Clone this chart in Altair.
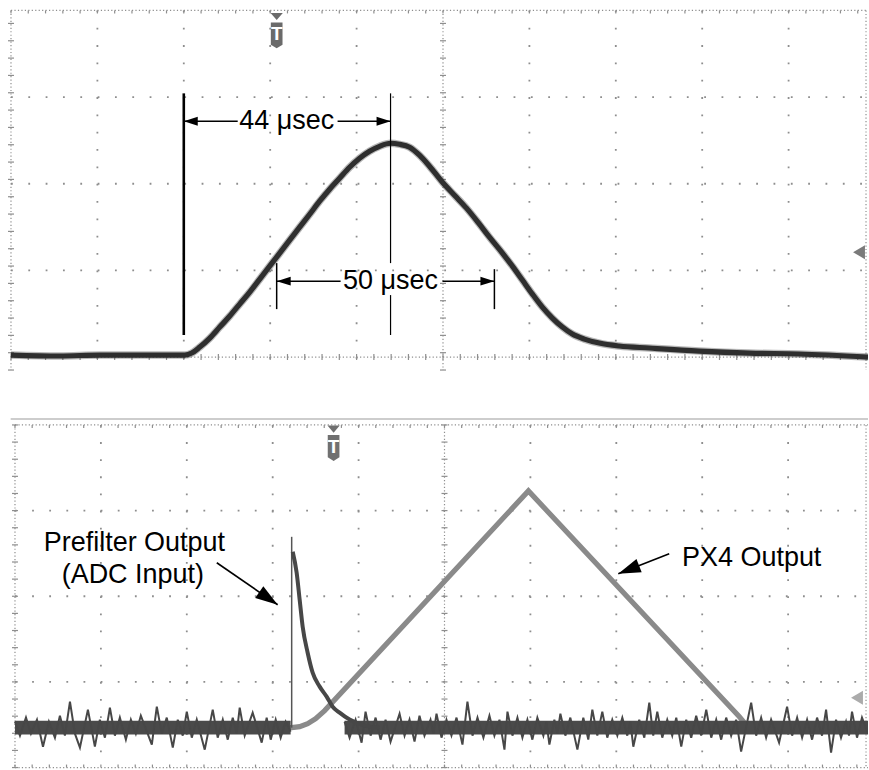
import altair as alt
import pandas as pd

# ---------------- data (units: oscilloscope screen divisions) ----------------
# Top panel: shaped output pulse
top_x = [0.0, 0.566, 1.029, 1.607, 2.012, 2.092, 2.185, 2.301, 2.416, 2.532, 2.647, 2.763,
         2.879, 2.994, 3.110, 3.225, 3.341, 3.457, 3.572, 3.688, 3.803, 3.919, 4.035, 4.150,
         4.266, 4.393, 4.497, 4.613, 4.728, 4.844, 4.994, 5.133, 5.272, 5.422, 5.538, 5.688,
         5.803, 5.919, 6.035, 6.150, 6.266, 6.382, 6.497, 6.636, 6.809, 7.040, 7.387, 7.965,
         8.543, 9.121, 9.919]
top_y = [0.023, 0.012, 0.023, 0.023, 0.023, 0.046, 0.115, 0.219, 0.346, 0.473, 0.611, 0.749,
         0.899, 1.049, 1.199, 1.349, 1.499, 1.648, 1.798, 1.937, 2.063, 2.190, 2.294, 2.375,
         2.432, 2.467, 2.455, 2.421, 2.329, 2.202, 2.017, 1.867, 1.718, 1.533, 1.383, 1.199,
         1.049, 0.888, 0.726, 0.576, 0.450, 0.346, 0.265, 0.207, 0.161, 0.127, 0.104, 0.069,
         0.046, 0.035, 0.000]

# Bottom panel: PX4 output (triangular shaping)
px4_x = [0.0, 3.221, 3.314, 3.407, 3.500, 3.605, 5.977, 8.430, 8.500, 8.570, 9.930]
px4_y = [0.466, 0.466, 0.478, 0.513, 0.571, 0.665, 3.230, 0.595, 0.513, 0.466, 0.466]

# Bottom panel: prefilter output (ADC input) - step then exponential decay
pre_step_x = 3.221
pre_step_top = 2.694
pre_x = [3.233, 3.279, 3.314, 3.349, 3.407, 3.465, 3.547, 3.628, 3.698, 3.779, 3.895, 4.070, 4.244]
pre_y = [2.520, 2.274, 1.959, 1.644, 1.341, 1.108, 0.945, 0.828, 0.711, 0.641, 0.560, 0.490, 0.466]
pre_base = 0.466
pre_core = 0.08
noise_seg_x0 = [0.0, 3.837]
noise_seg_x1 = [3.209, 9.930]

# noisy baseline of the prefilter trace (peaks/troughs)
noise1_x = [0.000, 0.058, 0.128, 0.186, 0.256, 0.326, 0.395, 0.465, 0.523, 0.581, 0.640, 0.698,
            0.756, 0.849, 0.930, 0.988, 1.047, 1.105, 1.163, 1.221, 1.291, 1.349, 1.407, 1.465,
            1.593, 1.651, 1.709, 1.767, 1.837, 1.895, 1.953, 2.000, 2.058, 2.116, 2.209, 2.302,
            2.360, 2.419, 2.477, 2.535, 2.581, 2.616, 2.674, 2.767, 2.872, 2.930, 2.977, 3.035,
            3.093, 3.151, 3.209]
noise1_y = [0.536, 0.373, 0.583, 0.396, 0.559, 0.244, 0.536, 0.349, 0.606, 0.373, 0.769, 0.396,
            0.233, 0.676, 0.244, 0.559, 0.349, 0.699, 0.373, 0.583, 0.326, 0.559, 0.396, 0.606,
            0.268, 0.711, 0.396, 0.583, 0.233, 0.559, 0.373, 0.653, 0.349, 0.559, 0.209, 0.676,
            0.349, 0.559, 0.326, 0.583, 0.396, 0.699, 0.373, 0.641, 0.291, 0.583, 0.326, 0.559,
            0.349, 0.536, 0.419]
noise2_x = [3.837, 3.895, 3.965, 4.035, 4.081, 4.140, 4.198, 4.256, 4.314, 4.372, 4.477, 4.535,
            4.593, 4.651, 4.709, 4.767, 4.837, 4.872, 4.907, 4.965, 5.023, 5.081, 5.140, 5.209,
            5.267, 5.326, 5.384, 5.453, 5.523, 5.581, 5.640, 5.698, 5.733, 5.791, 5.849, 5.907,
            5.965, 6.023, 6.081, 6.151, 6.186, 6.221, 6.279, 6.314, 6.349, 6.407, 6.465, 6.547,
            6.616, 6.674, 6.721, 6.779, 6.837, 6.895, 6.953, 7.012, 7.070, 7.128, 7.163, 7.198,
            7.267, 7.326, 7.384, 7.430, 7.477, 7.535, 7.593, 7.651, 7.698, 7.756, 7.814, 7.872,
            7.930, 7.988, 8.047, 8.105, 8.163, 8.221, 8.279, 8.337, 8.395, 8.453, 8.570, 8.628,
            8.686, 8.744, 8.802, 8.895, 8.988, 9.047, 9.105, 9.163, 9.221, 9.279, 9.337, 9.395,
            9.442, 9.500, 9.558, 9.616, 9.674, 9.709, 9.744, 9.802, 9.860, 9.930]
noise2_y = [0.536, 0.349, 0.559, 0.291, 0.653, 0.373, 0.583, 0.326, 0.559, 0.303, 0.629, 0.373,
            0.559, 0.303, 0.606, 0.373, 0.559, 0.396, 0.629, 0.349, 0.559, 0.373, 0.583, 0.268,
            0.769, 0.373, 0.583, 0.349, 0.606, 0.373, 0.559, 0.209, 0.653, 0.373, 0.583, 0.349,
            0.559, 0.326, 0.583, 0.373, 0.536, 0.268, 0.559, 0.396, 0.629, 0.373, 0.583, 0.209,
            0.583, 0.326, 0.676, 0.373, 0.653, 0.349, 0.559, 0.373, 0.583, 0.373, 0.536, 0.244,
            0.559, 0.349, 0.758, 0.373, 0.653, 0.349, 0.559, 0.373, 0.583, 0.244, 0.559, 0.349,
            0.606, 0.373, 0.676, 0.349, 0.559, 0.326, 0.583, 0.373, 0.559, 0.186, 0.758, 0.373,
            0.583, 0.349, 0.559, 0.291, 0.711, 0.373, 0.583, 0.349, 0.559, 0.326, 0.583, 0.373,
            0.676, 0.174, 0.559, 0.349, 0.536, 0.373, 0.653, 0.349, 0.583, 0.396]

# Annotation labels
top_labels = ["44 \u03bcsec", "50 \u03bcsec"]
top_label_x = [3.191, 4.393]
top_label_y = [2.720, 0.876]
bot_labels = ["Prefilter Output", "(ADC Input)", "PX4 Output"]
bot_label_x = [1.390, 1.372, 8.576]
bot_label_y = [2.624, 2.251, 2.449]

# ---------------- layout ----------------
W = 869
TOP_H = 380
BOT_H = 390
TOP_XDOM = [-0.1272, 9.919]
TOP_YDOM = [-0.2651, 4.1153]
BOT_XDOM = [-0.1744, 9.930]
BOT_YDOM = [-0.0233, 4.5248]

GRID = "#8e8e8e"
FONT = "Liberation Sans"


def encoders(xdom, ydom):
    def X(f="x"):
        return alt.X(f"{f}:Q", scale=alt.Scale(domain=xdom, nice=False, zero=False), axis=None)

    def Y(f="y"):
        return alt.Y(f"{f}:Q", scale=alt.Scale(domain=ydom, nice=False, zero=False), axis=None)

    return X, Y


def graticule(X, Y, dotted_v, ticked_v, dotted_h, ticked_h, vy0, vy1, hx0, hx1,
              dash_major, dash_minor, tick_len, tick_dirs, px_per_div):
    layers = []
    dv = pd.DataFrame({"x": dotted_v, "y": [vy1] * len(dotted_v), "y2": [vy0] * len(dotted_v)})
    layers.append(alt.Chart(dv).mark_rule(color=GRID, strokeWidth=1.8, strokeDash=dash_major)
                  .encode(x=X(), y=Y(), y2="y2:Q"))
    dh = pd.DataFrame({"y": dotted_h, "x": [hx0] * len(dotted_h), "x2": [hx1] * len(dotted_h)})
    layers.append(alt.Chart(dh).mark_rule(color=GRID, strokeWidth=1.8, strokeDash=dash_major)
                  .encode(y=Y(), x=X(), x2="x2:Q"))
    tv = pd.DataFrame({"x": ticked_v, "y": [vy1] * len(ticked_v), "y2": [vy0] * len(ticked_v)})
    layers.append(alt.Chart(tv).mark_rule(color=GRID, strokeWidth=1.2, strokeDash=dash_minor)
                  .encode(x=X(), y=Y(), y2="y2:Q"))
    th = pd.DataFrame({"y": ticked_h, "x": [hx0] * len(ticked_h), "x2": [hx1] * len(ticked_h)})
    layers.append(alt.Chart(th).mark_rule(color=GRID, strokeWidth=1.2, strokeDash=dash_minor)
                  .encode(y=Y(), x=X(), x2="x2:Q"))
    # short perpendicular ticks every 1/5 division on the ticked lines
    rows = []
    for yv, (up, dn) in zip(ticked_h, tick_dirs):
        k = 0
        while k * 0.2 <= hx1:
            rows.append({"x": k * 0.2, "x2": k * 0.2,
                         "y": yv + up * tick_len / px_per_div[1],
                         "y2": yv - dn * tick_len / px_per_div[1]})
            k += 1
    for xv in ticked_v[:2]:
        k = 0
        yy = vy0
        while yy <= vy1 + 1e-9:
            rows.append({"x": xv - tick_len / px_per_div[0], "x2": xv + tick_len / px_per_div[0],
                         "y": yy, "y2": yy})
            k += 1
            yy = vy0 + k * 0.2
    tk = pd.DataFrame(rows)
    layers.append(alt.Chart(tk).mark_rule(color=GRID, strokeWidth=1.2)
                  .encode(x=X(), x2="x2:Q", y=Y(), y2="y2:Q"))
    return layers


ARROW = "M0,0L-1,-0.32L-1,0.32Z"
SHIELD = "M-0.45,-1L0.45,-1L0.45,0.72L0,1L-0.45,0.72Z"
TRI_DOWN = "M-1,-0.55L1,-0.55L0,0.6Z"
TRI_LEFT = "M-1,0L0.7,-1L0.7,1Z"


def trigger(X, Y, x, y_tri, y_shield, color):
    d1 = pd.DataFrame({"x": [x], "y": [y_tri]})
    d2 = pd.DataFrame({"x": [x], "y": [y_shield], "t": ["T"]})
    return [
        alt.Chart(d1).mark_point(shape=TRI_DOWN, filled=True, size=150, color=color, opacity=1,
                                 strokeWidth=0).encode(x=X(), y=Y()),
        alt.Chart(d2).mark_point(shape=SHIELD, filled=True, size=676, color=color, opacity=1,
                                 strokeWidth=0).encode(x=X(), y=Y()),
        alt.Chart(d2).mark_text(font=FONT, fontSize=19, fontWeight="bold", color="white",
                                baseline="middle", align="center", dy=-1)
        .encode(x=X(), y=Y(), text="t:N"),
    ]


# ================= TOP PANEL =================
tX, tY = encoders(TOP_XDOM, TOP_YDOM)
top_layers = graticule(
    tX, tY,
    dotted_v=[1, 2, 3, 4, 6, 7, 8, 9], ticked_v=[0, 5, 9.896],
    dotted_h=[1, 2, 3], ticked_h=[0, 4],
    vy0=-0.15, vy1=4.0, hx0=0.0, hx1=9.919,
    dash_major=[1.8, 15.55], dash_minor=[1.2, 2.26], tick_len=3.0,
    tick_dirs=[(1, 1), (0, 1)], px_per_div=(86.5, 86.75))

top_df = pd.DataFrame({"x": top_x, "y": top_y})
top_layers.append(alt.Chart(top_df).mark_line(color="#333333", strokeWidth=7.5, opacity=0.35,
                                              interpolate="monotone", clip=True)
                  .encode(x=tX(), y=tY()))
top_layers.append(alt.Chart(top_df).mark_line(color="#2e2e2e", strokeWidth=5.2,
                                              interpolate="monotone", clip=True)
                  .encode(x=tX(), y=tY()))

ann_top = pd.DataFrame({
    "x":  [2.0, 4.393, 4.393, 2.0, 3.780, 3.075, 4.994, 3.075, 5.595],
    "x2": [2.0, 4.393, 4.393, 2.624, 4.393, 3.815, 5.595, 3.075, 5.595],
    "y":  [3.043, 3.043, 0.715, 2.720, 2.720, 0.876, 0.876, 1.084, 1.014],
    "y2": [0.254, 1.084, 0.254, 2.720, 2.720, 0.876, 0.876, 0.553, 0.553],
    "w":  [2.6, 1.2, 1.2, 1.5, 1.5, 1.5, 1.5, 1.5, 1.5],
})
top_layers.append(alt.Chart(ann_top).mark_rule(color="black")
                  .encode(x=tX(), x2="x2:Q", y=tY(), y2="y2:Q",
                          strokeWidth=alt.StrokeWidth("w:Q", scale=None)))
heads_top = pd.DataFrame({"x": [2.0, 4.393, 3.075, 5.595], "y": [2.720, 2.720, 0.876, 0.876],
                          "a": [180, 0, 180, 0]})
top_layers.append(alt.Chart(heads_top).mark_point(shape=ARROW, filled=True, size=784, color="black",
                                                  opacity=1, strokeWidth=0)
                  .encode(x=tX(), y=tY(), angle=alt.Angle("a:Q", scale=None)))
lab_top = pd.DataFrame({"x": top_label_x, "y": top_label_y, "t": top_labels})
top_layers.append(alt.Chart(lab_top).mark_text(font=FONT, fontSize=27, color="black",
                                               align="center", baseline="middle")
                  .encode(x=tX(), y=tY(), text="t:N"))
top_layers += trigger(tX, tY, 3.075, 3.931, 3.712, "#6a6a6a")
gnd_top = pd.DataFrame({"x": [9.827], "y": [1.210]})
top_layers.append(alt.Chart(gnd_top).mark_point(shape=TRI_LEFT, filled=True, size=196, color="#7a7a7a",
                                                opacity=1, strokeWidth=0).encode(x=tX(), y=tY()))

top = alt.layer(*top_layers).properties(width=W, height=TOP_H)

# ================= BOTTOM PANEL =================
bX, bY = encoders(BOT_XDOM, BOT_YDOM)
bot_layers = []
frame = pd.DataFrame({"x": [-0.05], "x2": [9.93], "y": [4.07]})
bot_layers.append(alt.Chart(frame).mark_rule(color="#bdbdbd", strokeWidth=1.6)
                  .encode(x=bX(), x2="x2:Q", y=bY()))
bot_layers += graticule(
    bX, bY,
    dotted_v=[1, 2, 3, 4, 6, 7, 8, 9], ticked_v=[0, 5, 9.907],
    dotted_h=[1, 2, 3], ticked_h=[0, 4],
    vy0=0.0, vy1=4.0, hx0=0.0, hx1=9.93,
    dash_major=[1.8, 15.35], dash_minor=[1.2, 2.24], tick_len=3.0,
    tick_dirs=[(1, 0), (0, 1)], px_per_div=(86.0, 85.75))

px4_df = pd.DataFrame({"x": px4_x, "y": px4_y})
bot_layers.append(alt.Chart(px4_df).mark_line(color="#8a8a8a", strokeWidth=5.2, clip=True)
                  .encode(x=bX(), y=bY()))

band = pd.DataFrame({"x": noise_seg_x0 + noise_seg_x1, "seg": [0, 1, 0, 1],
                     "y": [pre_base + pre_core] * 4, "y2": [pre_base - pre_core] * 4})
bot_layers.append(alt.Chart(band).mark_area(color="#4a4a4a", opacity=1, clip=True)
                  .encode(x=bX(), y=bY(), y2="y2:Q", detail="seg:N"))
noise_df = pd.DataFrame({"x": noise1_x + noise2_x, "y": noise1_y + noise2_y,
                         "seg": [0] * len(noise1_x) + [1] * len(noise2_x)})
bot_layers.append(alt.Chart(noise_df).mark_line(color="#474747", strokeWidth=2.0, clip=True)
                  .encode(x=bX(), y=bY(), detail="seg:N"))
step = pd.DataFrame({"x": [pre_step_x], "y": [pre_step_top], "y2": [pre_base]})
bot_layers.append(alt.Chart(step).mark_rule(color="#555555", strokeWidth=1.5)
                  .encode(x=bX(), y=bY(), y2="y2:Q"))
pre_df = pd.DataFrame({"x": pre_x, "y": pre_y})
bot_layers.append(alt.Chart(pre_df).mark_line(color="#474747", strokeWidth=4.0, interpolate="monotone")
                  .encode(x=bX(), y=bY()))

ann_bot = pd.DataFrame({"x": [2.349, 7.616], "x2": [3.058, 7.023],
                        "y": [2.391, 2.496], "y2": [1.901, 2.262]})
bot_layers.append(alt.Chart(ann_bot).mark_rule(color="black", strokeWidth=1.6)
                  .encode(x=bX(), x2="x2:Q", y=bY(), y2="y2:Q"))
heads_bot = pd.DataFrame({"x": [3.058, 7.023], "y": [1.901, 2.262], "a": [34.5, 158.6]})
bot_layers.append(alt.Chart(heads_bot).mark_point(shape=ARROW, filled=True, size=2000, color="black",
                                                  opacity=1, strokeWidth=0)
                  .encode(x=bX(), y=bY(), angle=alt.Angle("a:Q", scale=None)))
lab_bot = pd.DataFrame({"x": bot_label_x, "y": bot_label_y, "t": bot_labels})
bot_layers.append(alt.Chart(lab_bot).mark_text(font=FONT, fontSize=27, color="black",
                                               align="center", baseline="middle")
                  .encode(x=bX(), y=bY(), text="t:N"))
bot_layers += trigger(bX, bY, 3.709, 3.953, 3.732, "#707070")
gnd_bot = pd.DataFrame({"x": [9.814], "y": [0.816]})
bot_layers.append(alt.Chart(gnd_bot).mark_point(shape=TRI_LEFT, filled=True, size=196, color="#ababab",
                                                opacity=1, strokeWidth=0).encode(x=bX(), y=bY()))

bot = alt.layer(*bot_layers).properties(width=W, height=BOT_H)

chart = (alt.vconcat(top, bot, spacing=0)
         .properties(padding=0, background="white")
         .configure_view(strokeWidth=0))

chart.save("out.html", embed_options={"renderer": "svg", "actions": False})
